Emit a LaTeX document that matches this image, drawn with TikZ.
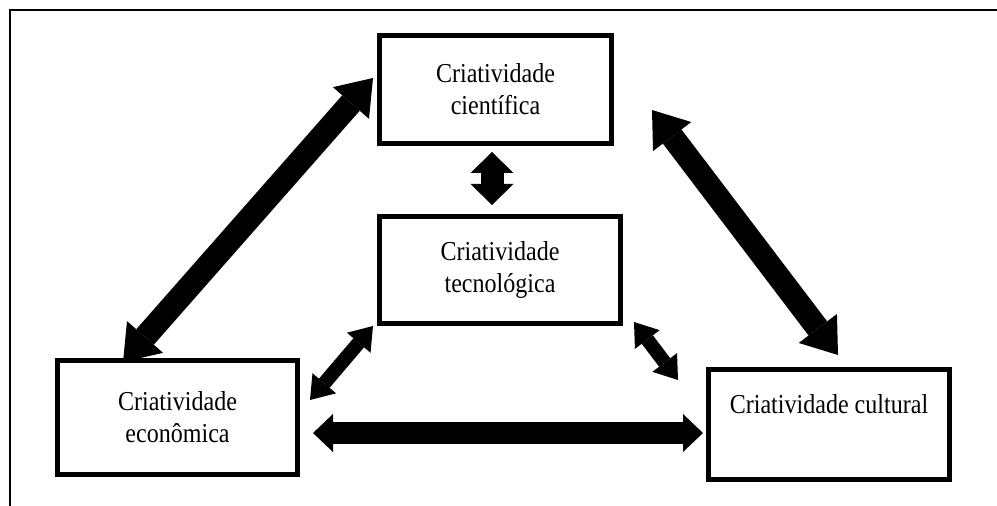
\documentclass[tikz,border=0pt]{standalone}
\usepackage{fontspec}
\usepackage{tikz}
\usetikzlibrary{arrows.meta,calc}
\newfontfamily\boxfont{Liberation Serif}[FakeStretch=0.88]

\tikzset{
  box/.style={draw, line width=3.5pt, align=center, inner sep=0pt,
    font=\boxfont\fontsize{20.5pt}{24pt}\selectfont},
  dbl/.style n args={3}{line width=#1, <->,
    >={Triangle[length=#2,width=#3,line width=0pt]}},
}

\begin{document}
\begin{tikzpicture}[x=0.75pt,y=0.75pt,yscale=-1,xscale=1]
\useasboundingbox (0,0) rectangle (997,506);

%Frame
\draw [line width=2.2pt] (10,506) -- (10,10) -- (997,10) ;

%Boxes
\node [box, minimum width=174.25pt, minimum height=81.25pt] (sci) at (495.5,89.5) {Criatividade\\científica};
\node [box, minimum width=181pt, minimum height=80.5pt] (tec) at (500,270) {Criatividade\\tecnológica};
\node [box, minimum width=180.25pt, minimum height=85.75pt] (eco) at (177.5,417.5) {Criatividade\\econômica};
\node [box, minimum width=181pt, minimum height=82.75pt] (cul) at (829,424.5) {Criatividade cultural\\[7pt]~};

%Arrows
\draw [dbl={17.5pt}{25pt}{36pt}] ($(sci.west)+(-4,-11.5)$) -- ($(eco.north west)+(68,4)$) ;
\draw [dbl={17.5pt}{25pt}{36pt}] ($(sci.east)+(38,20.5)$) -- ($(cul.north)+(9,-12)$) ;
\draw [dbl={17.25pt}{15.75pt}{32.25pt}] ($(sci.south)+(-3.5,6)$) -- ($(tec.north)+(-8,-9)$) ;
\draw [dbl={10.5pt}{16.5pt}{23.25pt}] ($(tec.south west)+(-4,0)$) -- ($(eco.east)+(10,-17.5)$) ;
\draw [dbl={10.5pt}{16.5pt}{23.25pt}] ($(tec.south east)+(11,-4)$) -- ($(cul.north west)+(-28,13)$) ;
\draw [dbl={16.5pt}{15pt}{28.5pt}] ($(eco.east)+(13,15.5)$) -- ($(cul.west)+(-3,8.5)$) ;

\end{tikzpicture}
\end{document}
